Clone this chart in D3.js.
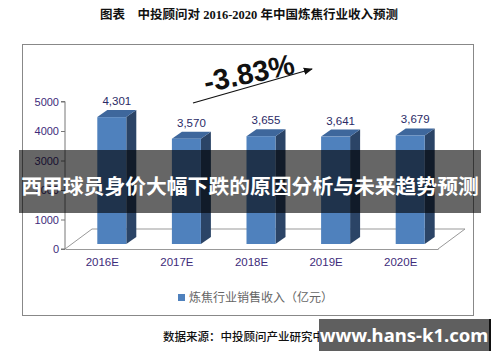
<!DOCTYPE html>
<html><head><meta charset="utf-8">
<script src="https://cdn.jsdelivr.net/npm/d3@7"></script>
<style>body{margin:0;background:#fff}svg{display:block}</style>
</head><body>
<svg id="c" width="500" height="362"></svg>
<script>
const categories = ["2016E","2017E","2018E","2019E","2020E"];
const values = [4301,3570,3655,3641,3679];
const valueLabels = ["4,301","3,570","3,655","3,641","3,679"];
const yTicks = [0,1000,2000,3000,4000,5000];
const seriesName = "炼焦行业销售收入（亿元）";
const titleText = "图表　中投顾问对 2016-2020 年中国炼焦行业收入预测";
const growthText = "-3.83%";
const sourceText = "数据来源：中投顾问产业研究中心";
const bannerText = "西甲球员身价大幅下跌的原因分析与未来趋势预测";
const watermarkText = "www.hans-k1.com";

const svg = d3.select("#c");
const sans = "Arial, 'Liberation Sans', 'Noto Sans CJK SC', sans-serif";

// title
svg.append("text").attr("x",249).attr("y",19).attr("text-anchor","middle")
  .attr("font-family","'Liberation Serif','Noto Sans CJK SC',serif").attr("font-weight","bold")
  .attr("font-size",12.5).attr("fill","#111").text(titleText);

// frame
svg.append("rect").attr("x",22.5).attr("y",44.5).attr("width",451).attr("height",271)
  .attr("fill","#fff").attr("stroke","#888").attr("stroke-width",1);

const x = d3.scaleBand().domain(categories).range([65,438]).padding(0);
const y = d3.scaleLinear().domain([0,5000]).range([249,101.5]);
const dx = 27, dy = -20; // floor depth
const barBase = 244;

// floor
const floor = [[65,249],[65+dx,249+dy],[438+dx,249+dy],[438,249]];
svg.append("path").attr("d","M"+floor.map(p=>p.join(",")).join("L"))
  .attr("fill","none").attr("stroke","#999").attr("stroke-width",1);

// y axis
const yAxis = d3.axisLeft(y).tickValues(yTicks).tickSize(4).tickFormat(d3.format("d"));
const gy = svg.append("g").attr("transform","translate(65,0)").call(yAxis);
gy.select(".domain").attr("stroke","#777").attr("d","M-4,101.5H0V249H-4");
gy.selectAll(".tick line").attr("stroke","#777");
gy.selectAll(".tick text").attr("font-family",sans).attr("font-size",11).attr("fill","#3d2b7a").attr("x",-6);

// x axis
const xAxis = d3.axisBottom(x).tickSize(0).tickPadding(9);
const gx = svg.append("g").attr("transform","translate(0,249)").call(xAxis);
gx.select(".domain").attr("stroke","#999");
gx.selectAll(".tick text").attr("font-family",sans).attr("font-size",11.5).attr("fill","#3d2b7a");
gx.selectAll(".sep").data(categories).enter().append("line")
  .attr("x1",d=>x(d)+x.bandwidth()).attr("x2",d=>x(d)+x.bandwidth())
  .attr("y1",249).attr("y2",253).attr("stroke","#999");

// bars
const bw = 29, bdx = 10, bdy = -7;
const g = svg.append("g");
categories.forEach((c,i)=>{
  const x0 = x(c) + x.bandwidth()/2 - 5;
  const top = y(values[i]) - (249-barBase);
  g.append("path").attr("d",`M${x0+bw},${top}L${x0+bw+bdx},${top+bdy}L${x0+bw+bdx},${barBase+bdy}L${x0+bw},${barBase}Z`)
    .attr("fill","#2b4466");
  g.append("path").attr("d",`M${x0},${top}L${x0+bdx},${top+bdy}L${x0+bw+bdx},${top+bdy}L${x0+bw},${top}Z`)
    .attr("fill","#3e679c");
  g.append("rect").attr("x",x0).attr("y",top).attr("width",bw).attr("height",barBase-top)
    .attr("fill","#4f81bd");
  g.append("text").attr("x",x0+bw/2+5).attr("y",top-12).attr("text-anchor","middle")
    .attr("font-family",sans).attr("font-size",11.5).attr("fill","#2a2a66").text(valueLabels[i]);
});

// growth annotation
const defs = svg.append("defs");
defs.append("marker").attr("id","ah").attr("viewBox","0 0 10 10").attr("refX",9).attr("refY",5)
  .attr("markerWidth",7).attr("markerHeight",7).attr("orient","auto")
  .append("path").attr("d","M0,1L10,5L0,9Z").attr("fill","#111");
svg.append("line").attr("x1",193).attr("y1",103).attr("x2",312).attr("y2",69)
  .attr("stroke","#111").attr("stroke-width",1.3).attr("marker-end","url(#ah)");
svg.append("text").attr("transform","translate(251,83) rotate(-12)").attr("text-anchor","middle")
  .attr("font-family",sans).attr("font-size",29).attr("font-weight","bold").attr("fill","#111").text(growthText);

// legend
svg.append("rect").attr("x",178).attr("y",294).attr("width",7).attr("height",7).attr("fill","#4f81bd");
svg.append("text").attr("x",189).attr("y",302).attr("font-family","'Noto Sans CJK SC',sans-serif")
  .attr("font-size",12).attr("fill","#666").text(seriesName);

// source
svg.append("text").attr("x",163).attr("y",341).attr("font-family","'Noto Sans CJK SC',sans-serif")
  .attr("font-size",11.5).attr("font-weight",500).attr("fill","#111").text(sourceText);

// banner overlay
svg.append("rect").attr("x",19).attr("y",150).attr("width",462).attr("height",63).attr("fill","rgba(0,0,0,0.6)");
svg.append("text").attr("x",250).attr("y",194).attr("text-anchor","middle")
  .attr("font-family","'Noto Sans CJK SC',sans-serif").attr("font-weight","bold")
  .attr("font-size",20.8).attr("fill","#fff").text(bannerText);

// watermark
svg.append("rect").attr("x",319).attr("y",319).attr("width",171).attr("height",32).attr("fill","#5f5f5f");
svg.append("rect").attr("x",489).attr("y",319).attr("width",2).attr("height",32).attr("fill","#111");
svg.append("text").attr("x",404).attr("y",342).attr("text-anchor","middle")
  .attr("font-family","'Noto Sans','Open Sans',sans-serif").attr("font-weight","bold")
  .attr("font-size",18.5).attr("fill","#fff").text(watermarkText);
</script>
</body></html>
